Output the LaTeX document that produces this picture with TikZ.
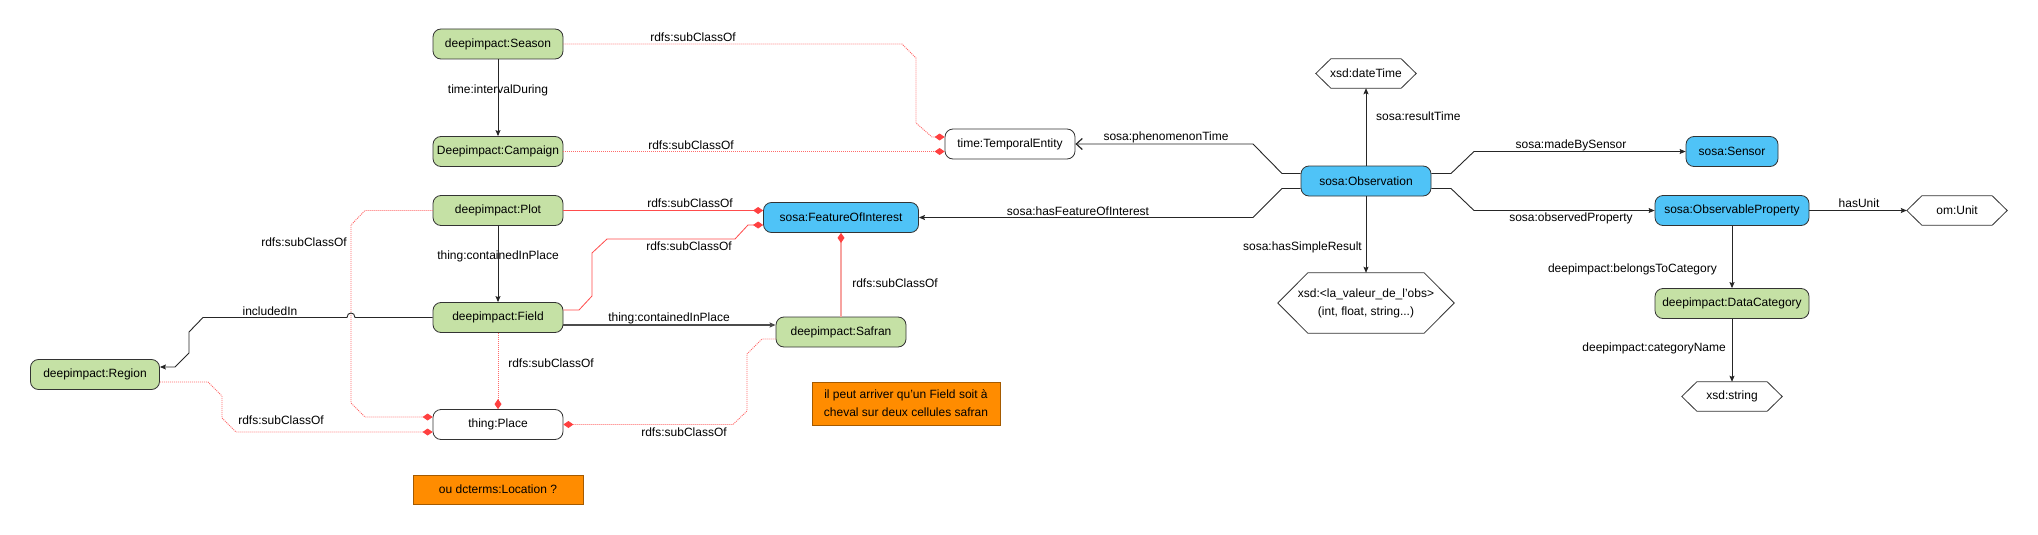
\documentclass[tikz,border=0pt]{standalone}
\usepackage{fontspec}
\setmainfont{Liberation Sans}
\usetikzlibrary{arrows.meta,calc}
\definecolor{gfill}{HTML}{C5E1A5}
\definecolor{bfill}{HTML}{4FC3F7}
\definecolor{ofill}{HTML}{FF8C00}
\definecolor{odraw}{HTML}{A45A00}
\definecolor{reddot}{HTML}{FF6A6A}
\definecolor{redsol}{HTML}{FF4C4C}
\definecolor{redpink}{HTML}{F7A3A0}
\definecolor{diared}{HTML}{FF4040}
\begin{document}
\begin{tikzpicture}[x=1pt,y=-1pt,
  txt/.style={font=\fontsize{12}{18}\selectfont},
  cls/.style={txt, draw=black!80, line width=0.8pt, rounded corners=8pt, minimum height=30pt, inner sep=0pt},
  gcls/.style={cls, fill=gfill},
  bcls/.style={cls, fill=bfill},
  wcls/.style={cls, fill=white},
  hexnode/.style={txt, inner sep=0pt, minimum height=29pt, minimum width=100pt},
  hexline/.style={draw=black!80, line width=0.8pt},
  note/.style={txt, draw=odraw, line width=0.8pt, fill=ofill, inner sep=0pt, align=center},
  lbl/.style={txt, inner sep=1pt},
  rel/.style={draw=black!85, line width=0.9pt, -{Stealth[length=6pt,width=5pt,inset=1pt]}},
  subdot/.style={draw=reddot, line width=0.9pt, dash pattern=on 1pt off 1pt, -{Diamond[length=10pt,width=7pt,color=diared]}},
  subsol/.style={draw=redsol, line width=1pt, -{Diamond[length=10pt,width=7pt,color=diared]}},
]
\useasboundingbox[fill=white] (0,0) rectangle (2038,535);

% ---- class nodes
\node[gcls, minimum width=130pt] (season) at (498,44) {deepimpact:Season};
\node[gcls, minimum width=130pt] (campaign) at (498,151.5) {Deepimpact:Campaign};
\node[gcls, minimum width=130pt] (plot) at (498,210.5) {deepimpact:Plot};
\node[gcls, minimum width=130pt] (field) at (498,317.5) {deepimpact:Field};
\node[gcls, minimum width=129pt] (region) at (95,374.5) {deepimpact:Region};
\node[wcls, minimum width=130pt] (place) at (498,424.5) {thing:Place};
\node[wcls, minimum width=130pt] (temporal) at (1010,144) {time:TemporalEntity};
\node[bcls, minimum width=155pt] (foi) at (841,217.5) {sosa:FeatureOfInterest};
\node[gcls, minimum width=130pt] (safran) at (841,332) {deepimpact:Safran};
\node[bcls, minimum width=130pt] (obs) at (1366,181) {sosa:Observation};
\node[bcls, minimum width=92pt] (sensor) at (1732,151.5) {sosa:Sensor};
\node[bcls, minimum width=154pt] (obsprop) at (1732,210.5) {sosa:ObservableProperty};
\node[gcls, minimum width=154pt] (datacat) at (1732,303.5) {deepimpact:DataCategory};

% ---- datatype hexagons
\node[hexnode] (dt) at (1366,73.5) {xsd:dateTime};
\node[hexnode] (omunit) at (1957,210.5) {om:Unit};
\node[hexnode] (xs) at (1732,396.5) {xsd:string};
\node[hexnode, minimum width=176pt, minimum height=60pt, align=center] (res) at (1366,303) {xsd:<la\_valeur\_de\_l'obs>\\(int, float, string...)};
\foreach \h/\d in {dt/15,omunit/15,xs/15,res/30}{
  \draw[hexline] (\h.west) -- ([xshift=\d pt]\h.north west) -- ([xshift=-\d pt]\h.north east)
    -- (\h.east) -- ([xshift=-\d pt]\h.south east) -- ([xshift=\d pt]\h.south west) -- cycle;
}

% ---- notes
\node[note, minimum width=188pt, minimum height=43pt] (note1) at (906,403.5) {il peut arriver qu'un Field soit à\\cheval sur deux cellules safran};
\node[note, minimum width=170pt, minimum height=29pt] (note2) at (498,489.5) {ou dcterms:Location ?};

% ---- subClassOf connectors
\draw[subdot] (season.east) -- (902,44) -- (916,58) -- (916,123) -- (932,137) -- ([yshift=7pt]temporal.west);
\draw[subdot] (campaign.east) -- (campaign.east -| temporal.west);
\draw[subsol] (plot.east) -- (plot.east -| foi.west);
\draw[subsol, line width=0.8pt] ([yshift=7.5pt]field.east) -- (579,310) -- (592,296) -- (592,253) -- (607,239) -- (735,239) -- (748,225) -- ([yshift=-7.5pt]foi.west);
\draw[subsol, draw=redpink, line width=1.6pt] (safran.north) -- (foi.south);
\draw[subdot] (plot.west) -- (365,210.5) -- (351,225) -- (351,403) -- (365,417) -- ([yshift=7.5pt]place.west);
\draw[subdot] ([yshift=-7.5pt]region.east) -- (208,382) -- (222,396) -- (222,418) -- (236,432) -- ([yshift=-7.5pt]place.west);
\draw[subdot] (field.south) -- (place.north);
\draw[subdot] ([yshift=-7pt]safran.west) -- (762,339) -- (747,354) -- (747,411) -- (733,424.5) -- (place.east);

% ---- object property connectors
\draw[rel] (season.south) -- (campaign.north);
\draw[rel] (plot.south) -- (field.north);
\draw[rel, line width=1.3pt, draw=black!70] ([yshift=-7.5pt]field.east) -- ([yshift=-7.5pt]field.east -| safran.west);
\draw[rel] (field.west) -- (355,317.5) .. controls (355,311.5) and (347,311.5) .. (347,317.5) -- (203,317.5) -- (189,332) -- (189,353) -- (175,367) -- ([yshift=7.5pt]region.east);
\draw[rel, -{Straight Barb[length=6pt,width=11pt,line width=1.2pt]}] ([yshift=7.5pt]obs.west) -- (1282,173.5) -- (1253,144) -- (temporal.east);
\draw[rel] ([yshift=-7.5pt]obs.west) -- (1282,188.5) -- (1253,217.5) -- (foi.east);
\draw[rel] (obs.north) -- (dt.south);
\draw[rel] (obs.south) -- (res.north);
\draw[rel] ([yshift=7.5pt]obs.east) -- (1451,173.5) -- (1474,151.5) -- (sensor.west);
\draw[rel] ([yshift=-7.5pt]obs.east) -- (1451,188.5) -- (1474,210.5) -- (obsprop.west);
\draw[rel] (obsprop.east) -- (omunit.west);
\draw[rel] (obsprop.south) -- (datacat.north);
\draw[rel] (datacat.south) -- (xs.north);

% ---- labels
\node[lbl] (l1) at (693,37) {rdfs:subClassOf};
\node[lbl] (l2) at (691,145) {rdfs:subClassOf};
\node[lbl] (l3) at (690,203) {rdfs:subClassOf};
\node[lbl] (l4) at (689,246) {rdfs:subClassOf};
\node[lbl] (l5) at (895,283) {rdfs:subClassOf};
\node[lbl] (l6) at (304,242) {rdfs:subClassOf};
\node[lbl] (l7) at (281,420) {rdfs:subClassOf};
\node[lbl] (l8) at (551,363) {rdfs:subClassOf};
\node[lbl] (l9) at (684,432) {rdfs:subClassOf};
\node[lbl] (l10) at (498,90) {time:intervalDuring};
\node[lbl] (l11) at (498,256) {thing:containedInPlace};
\node[lbl] (l12) at (669,318) {thing:containedInPlace};
\node[lbl] (l13) at (270,311) {includedIn};
\node[lbl] (l14) at (1166,137) {sosa:phenomenonTime};
\node[lbl] (l15) at (1078,211) {sosa:hasFeatureOfInterest};
\node[lbl, anchor=west] (l16) at (1375,116) {sosa:resultTime};
\node[lbl, anchor=east] (l17) at (1363,247) {sosa:hasSimpleResult};
\node[lbl] (l18) at (1571,145) {sosa:madeBySensor};
\node[lbl] (l19) at (1571,218) {sosa:observedProperty};
\node[lbl] (l20) at (1859,203) {hasUnit};
\node[lbl, anchor=east] (l21) at (1718,269) {deepimpact:belongsToCategory};
\node[lbl, anchor=east] (l22) at (1727,348) {deepimpact:categoryName};
\end{tikzpicture}
\end{document}
